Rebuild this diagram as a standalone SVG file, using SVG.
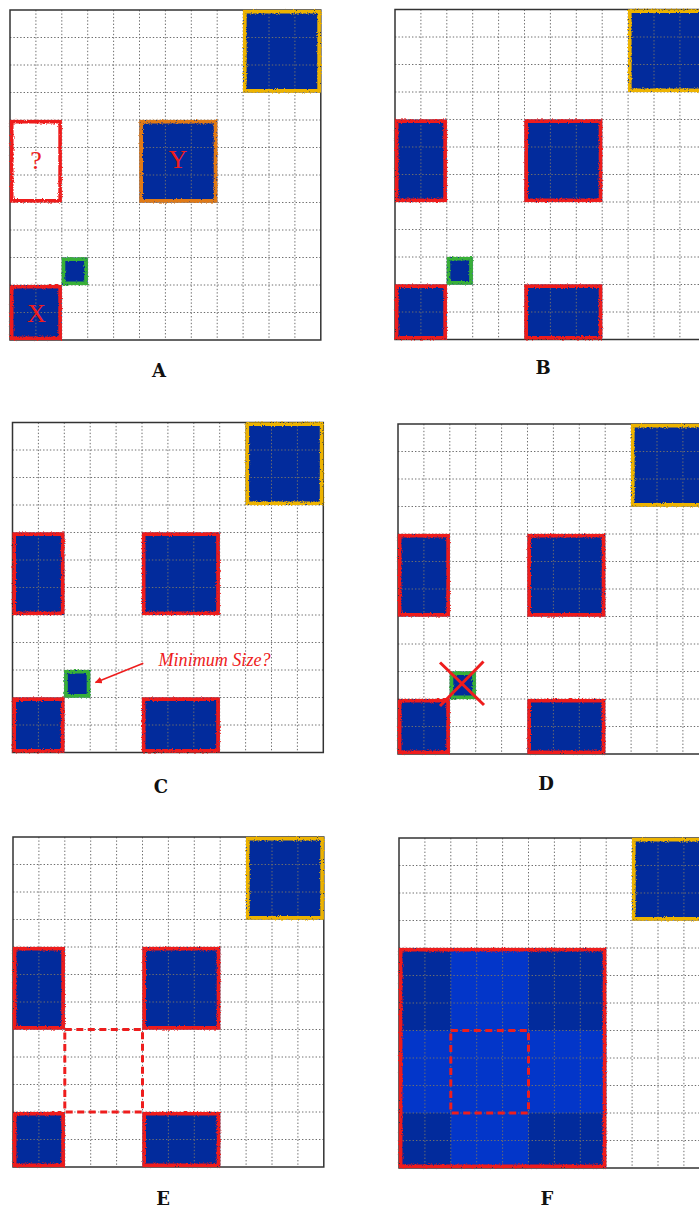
<svg xmlns="http://www.w3.org/2000/svg" xmlns:xlink="http://www.w3.org/1999/xlink" width="699" height="1211" viewBox="0 0 699 1211">
<style>
.bg{fill:#fff}
.frame{fill:none;stroke:#333;stroke-width:1.5}
.grid{fill:none;stroke:#6e6e6e;stroke-width:1;stroke-dasharray:1.4 2}
.blue{fill:#022b9c}
.bright{fill:#0336c9}
.bd{fill:none;stroke-width:3.6;filter:url(#rough)}
.red{stroke:#ee1d1d}
.yel{stroke:#edb300}
.org{stroke:#e07a18}
.grn{stroke:#37b037}
.dash{fill:none;stroke:#ee1d1d;stroke-width:3;stroke-dasharray:7 4.5}
.lbl{font-family:"DejaVu Serif","Liberation Serif",serif;font-weight:bold;font-size:18px;fill:#111;text-anchor:middle}
.big{font-family:"Liberation Serif","DejaVu Serif",serif;font-size:26px;fill:#ee1d1d;text-anchor:middle}
.note{font-family:"Liberation Serif","DejaVu Serif",serif;font-style:italic;font-size:19px;fill:#ee1d1d}
.cross{stroke:#ee1d1d;stroke-width:3;fill:none}
.arrow{stroke:#ee1d1d;stroke-width:1.6;fill:none}
</style>
<defs>
<filter id="rough" x="-10%" y="-10%" width="120%" height="120%">
<feTurbulence type="fractalNoise" baseFrequency="0.9" numOctaves="2" seed="3" result="n"/>
<feDisplacementMap in="SourceGraphic" in2="n" scale="3" xChannelSelector="R" yChannelSelector="G"/>
</filter>
<marker id="ah" viewBox="0 0 10 10" refX="9" refY="5" markerWidth="7" markerHeight="7" markerUnits="userSpaceOnUse" orient="auto">
<path d="M0,0 L10,5 L0,10 z" fill="#ee1d1d"/>
</marker>
<rect id="bgr" class="bg" x="0" y="0" width="310.8" height="330"/>
<rect id="frm" class="frame" x="0" y="0" width="310.8" height="330"/>
<path id="grd" class="grid" d="M25.9 0V330M51.8 0V330M77.7 0V330M103.6 0V330M129.5 0V330M155.4 0V330M181.3 0V330M207.2 0V330M233.1 0V330M259 0V330M284.9 0V330M0 27.5H310.8M0 55H310.8M0 82.5H310.8M0 110H310.8M0 137.5H310.8M0 165H310.8M0 192.5H310.8M0 220H310.8M0 247.5H310.8M0 275H310.8M0 302.5H310.8"/>
</defs>

<g id="panelA" transform="translate(10,10)">
<use xlink:href="#bgr" href="#bgr"/>
<rect class="blue" x="233.1" y="0" width="77.7" height="82.5"/>
<rect class="blue" x="129.5" y="110" width="77.7" height="82.5"/>
<rect class="blue" x="51.8" y="247.5" width="25.9" height="27.5"/>
<rect class="blue" x="0" y="275" width="51.8" height="55"/>
<use xlink:href="#grd" href="#grd"/>
<use xlink:href="#frm" href="#frm"/>
<rect class="bd yel" x="234.8" y="1.7" width="74.3" height="79.1"/>
<rect class="bd red" x="1.7" y="111.7" width="48.4" height="79.1"/>
<rect class="bd org" x="131.2" y="111.7" width="74.3" height="79.1"/>
<rect class="bd grn" x="53.5" y="249.2" width="22.5" height="24.1"/>
<rect class="bd red" x="1.7" y="276.7" width="48.4" height="51.6"/>
<text class="big" x="26" y="158.5">?</text>
<text class="big" x="168" y="158">Y</text>
<text class="big" x="26.5" y="312">X</text>
</g>
<text id="labelA" class="lbl" x="159" y="377">A</text>

<g id="panelB" transform="translate(395,9.5)">
<use xlink:href="#bgr" href="#bgr"/>
<rect class="blue" x="233.1" y="0" width="77.7" height="82.5"/>
<rect class="blue" x="0" y="110" width="51.8" height="82.5"/>
<rect class="blue" x="129.5" y="110" width="77.7" height="82.5"/>
<rect class="blue" x="51.8" y="247.5" width="25.9" height="27.5"/>
<rect class="blue" x="0" y="275" width="51.8" height="55"/>
<rect class="blue" x="129.5" y="275" width="77.7" height="55"/>
<use xlink:href="#grd" href="#grd"/>
<use xlink:href="#frm" href="#frm"/>
<rect class="bd yel" x="234.8" y="1.7" width="74.3" height="79.1"/>
<rect class="bd red" x="1.7" y="111.7" width="48.4" height="79.1"/>
<rect class="bd red" x="131.2" y="111.7" width="74.3" height="79.1"/>
<rect class="bd grn" x="53.5" y="249.2" width="22.5" height="24.1"/>
<rect class="bd red" x="1.7" y="276.7" width="48.4" height="51.6"/>
<rect class="bd red" x="131.2" y="276.7" width="74.3" height="51.6"/>
</g>
<text id="labelB" class="lbl" x="543" y="374">B</text>

<g id="panelC" transform="translate(12.5,422.5)">
<use xlink:href="#bgr" href="#bgr"/>
<rect class="blue" x="233.1" y="0" width="77.7" height="82.5"/>
<rect class="blue" x="0" y="110" width="51.8" height="82.5"/>
<rect class="blue" x="129.5" y="110" width="77.7" height="82.5"/>
<rect class="blue" x="51.8" y="247.5" width="25.9" height="27.5"/>
<rect class="blue" x="0" y="275" width="51.8" height="55"/>
<rect class="blue" x="129.5" y="275" width="77.7" height="55"/>
<use xlink:href="#grd" href="#grd"/>
<use xlink:href="#frm" href="#frm"/>
<rect class="bd yel" x="234.8" y="1.7" width="74.3" height="79.1"/>
<rect class="bd red" x="1.7" y="111.7" width="48.4" height="79.1"/>
<rect class="bd red" x="131.2" y="111.7" width="74.3" height="79.1"/>
<rect class="bd grn" x="53.5" y="249.2" width="22.5" height="24.1"/>
<rect class="bd red" x="1.7" y="276.7" width="48.4" height="51.6"/>
<rect class="bd red" x="131.2" y="276.7" width="74.3" height="51.6"/>
<text class="note" x="146" y="243" textLength="112" lengthAdjust="spacingAndGlyphs">Minimum Size?</text>
</g>
<text id="labelC" class="lbl" x="161" y="793">C</text>

<g id="panelD" transform="translate(398,424)">
<use xlink:href="#bgr" href="#bgr"/>
<rect class="blue" x="233.1" y="0" width="77.7" height="82.5"/>
<rect class="blue" x="0" y="110" width="51.8" height="82.5"/>
<rect class="blue" x="129.5" y="110" width="77.7" height="82.5"/>
<rect class="blue" x="51.8" y="247.5" width="25.9" height="27.5"/>
<rect class="blue" x="0" y="275" width="51.8" height="55"/>
<rect class="blue" x="129.5" y="275" width="77.7" height="55"/>
<use xlink:href="#grd" href="#grd"/>
<use xlink:href="#frm" href="#frm"/>
<rect class="bd yel" x="234.8" y="1.7" width="74.3" height="79.1"/>
<rect class="bd red" x="1.7" y="111.7" width="48.4" height="79.1"/>
<rect class="bd red" x="131.2" y="111.7" width="74.3" height="79.1"/>
<rect class="bd grn" x="53.5" y="249.2" width="22.5" height="24.1"/>
<rect class="bd red" x="1.7" y="276.7" width="48.4" height="51.6"/>
<rect class="bd red" x="131.2" y="276.7" width="74.3" height="51.6"/>
<path class="cross" d="M42 238.5L86 281M85.5 237.5L42 282"/>
</g>
<text id="labelD" class="lbl" x="546" y="790">D</text>

<g id="panelE" transform="translate(13,837)">
<use xlink:href="#bgr" href="#bgr"/>
<rect class="blue" x="233.1" y="0" width="77.7" height="82.5"/>
<rect class="blue" x="0" y="110" width="51.8" height="82.5"/>
<rect class="blue" x="129.5" y="110" width="77.7" height="82.5"/>
<rect class="blue" x="0" y="275" width="51.8" height="55"/>
<rect class="blue" x="129.5" y="275" width="77.7" height="55"/>
<use xlink:href="#grd" href="#grd"/>
<use xlink:href="#frm" href="#frm"/>
<rect class="bd yel" x="234.8" y="1.7" width="74.3" height="79.1"/>
<rect class="bd red" x="1.7" y="111.7" width="48.4" height="79.1"/>
<rect class="bd red" x="131.2" y="111.7" width="74.3" height="79.1"/>
<rect class="bd red" x="1.7" y="276.7" width="48.4" height="51.6"/>
<rect class="bd red" x="131.2" y="276.7" width="74.3" height="51.6"/>
<rect class="dash" x="51.8" y="192.5" width="77.7" height="82.5"/>
</g>
<text id="labelE" class="lbl" x="163" y="1205">E</text>

<g id="panelF" transform="translate(399,838)">
<use xlink:href="#bgr" href="#bgr"/>
<rect class="blue" x="233.1" y="0" width="77.7" height="82.5"/>
<rect class="blue" x="0" y="110" width="207.2" height="220"/>
<rect class="bright" x="51.8" y="110" width="77.7" height="220"/>
<rect class="bright" x="0" y="192.5" width="207.2" height="82.5"/>
<use xlink:href="#grd" href="#grd"/>
<use xlink:href="#frm" href="#frm"/>
<rect class="bd yel" x="234.8" y="1.7" width="74.3" height="79.1"/>
<rect class="bd red" x="1.7" y="111.7" width="203.8" height="216.6"/>
<rect class="dash" x="51.8" y="192.5" width="77.7" height="82.5"/>
</g>
<text id="labelF" class="lbl" x="547" y="1205">F</text>

<g id="connectors">
<path class="arrow" d="M143.3 663.3L95.5 682.5" marker-end="url(#ah)"/>
</g>
</svg>
